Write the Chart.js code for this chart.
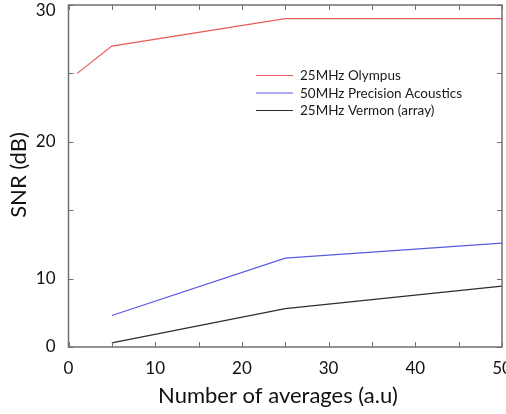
<!DOCTYPE html>
<html>
<head>
<meta charset="utf-8">
<script src="https://cdn.jsdelivr.net/npm/chart.js@4.4.0/dist/chart.umd.min.js"></script>
<style>
  html, body { margin: 0; padding: 0; background: #fff; }
  #wrap { width: 506px; height: 414px; }
</style>
</head>
<body>
<div id="wrap"><canvas id="snrChart" width="506" height="414"></canvas></div>
<script>
// values (y in the plot's own units)
const olympusX = [1, 5, 25, 50];
const olympusY = [25.0, 27.0, 29.0, 29.0];
const precisionX = [5, 25, 50];
const precisionY = [7.3, 11.5, 12.6];
const vermonX = [5, 25, 50];
const vermonY = [5.3, 7.8, 9.45];

const seriesNames = ['25MHz Olympus', '50MHz Precision Acoustics', '25MHz Vermon (array)'];
const seriesColors = ['rgb(232,90,90)', 'rgb(90,90,225)', 'rgb(45,45,45)'];

const xTickLabels = [0, 10, 20, 30, 40, 50];
// bottom tick carries the label "0" in the original figure,
// the top "30" sits a little under its tick
const yTickLabels = { 5: '0', 10: '10', 20: '20', 30: ['', '30'] };

const xTitle = 'Number of averages (a.u)';
const yTitle = 'SNR (dB)';

function toPoints(xs, ys) {
    return xs.map((x, i) => ({ x: x, y: ys[i] }));
}

const FONT = 'Lato, "Open Sans", sans-serif';

// frame, inward ticks, titles and legend
const framePlugin = {
    id: 'frame',
    afterDraw(chart) {
        const ctx = chart.ctx;
        const a = chart.chartArea;
        const xs = chart.scales.x;
        const ys = chart.scales.y;
        ctx.save();
        ctx.strokeStyle = '#707070';
        ctx.lineWidth = 1.5;
        ctx.strokeRect(a.left, a.top, a.right - a.left, a.bottom - a.top);
        ctx.lineWidth = 1;
        const len = 5;
        ctx.beginPath();
        xs.ticks.forEach(t => {
            const px = Math.round(xs.getPixelForValue(t.value)) + 0.5;
            ctx.moveTo(px, a.bottom); ctx.lineTo(px, a.bottom - len);
            ctx.moveTo(px, a.top); ctx.lineTo(px, a.top + len);
        });
        ys.ticks.forEach(t => {
            const py = Math.round(ys.getPixelForValue(t.value)) + 0.5;
            ctx.moveTo(a.left, py); ctx.lineTo(a.left + len, py);
            ctx.moveTo(a.right, py); ctx.lineTo(a.right - len, py);
        });
        ctx.stroke();

        // axis titles
        ctx.fillStyle = '#111';
        ctx.font = '22px ' + FONT;
        ctx.textAlign = 'center';
        ctx.textBaseline = 'alphabetic';
        ctx.fillText(xTitle, 278, 403);
        ctx.save();
        ctx.translate(26, 175);
        ctx.rotate(-Math.PI / 2);
        ctx.fillText(yTitle, 0, 0);
        ctx.restore();

        // legend
        ctx.font = '13.5px ' + FONT;
        ctx.textAlign = 'left';
        ctx.textBaseline = 'middle';
        chart.data.datasets.forEach((ds, i) => {
            const y = 75 + i * 17.5;
            ctx.strokeStyle = ds.borderColor;
            ctx.lineWidth = 1.2;
            ctx.beginPath();
            ctx.moveTo(256, y + 0.5);
            ctx.lineTo(293, y + 0.5);
            ctx.stroke();
            ctx.fillStyle = '#1a1a1a';
            ctx.fillText(ds.label, 300, y + 1);
        });
        ctx.restore();
    }
};

const datasets = [
    toPoints(olympusX, olympusY),
    toPoints(precisionX, precisionY),
    toPoints(vermonX, vermonY)
].map((pts, i) => ({
    label: seriesNames[i],
    data: pts,
    borderColor: seriesColors[i],
    backgroundColor: seriesColors[i],
    borderWidth: 1.2,
    pointRadius: 0,
    fill: false,
    tension: 0
}));

new Chart(document.getElementById('snrChart'), {
    type: 'line',
    data: { datasets: datasets },
    options: {
        responsive: false,
        animation: false,
        layout: { padding: { top: 5, right: 4, left: 0, bottom: 0 } },
        plugins: {
            legend: { display: false },
            tooltip: { enabled: false }
        },
        scales: {
            x: {
                type: 'linear',
                min: 0,
                max: 50,
                grid: { display: false },
                border: { display: false },
                ticks: {
                    stepSize: 5,
                    autoSkip: false,
                    maxRotation: 0,
                    color: '#111',
                    font: { family: FONT, size: 17 },
                    padding: 3,
                    callback: v => xTickLabels.includes(v) ? String(v) : ''
                },
                afterFit(s) {
                    s.height = 67;
                    s.paddingLeft = 0;
                    s.paddingRight = 0;
                }
            },
            y: {
                type: 'linear',
                min: 5,
                max: 30,
                grid: { display: false },
                border: { display: false },
                ticks: {
                    stepSize: 5,
                    autoSkip: false,
                    color: '#111',
                    font: { family: FONT, size: 17, lineHeight: 0.7 },
                    padding: 5,
                    callback: v => yTickLabels[v] || ''
                },
                afterFit(s) {
                    s.width = 68.5;
                    s.paddingTop = 0;
                    s.paddingBottom = 0;
                }
            }
        }
    },
    plugins: [framePlugin]
});
</script>
</body>
</html>
